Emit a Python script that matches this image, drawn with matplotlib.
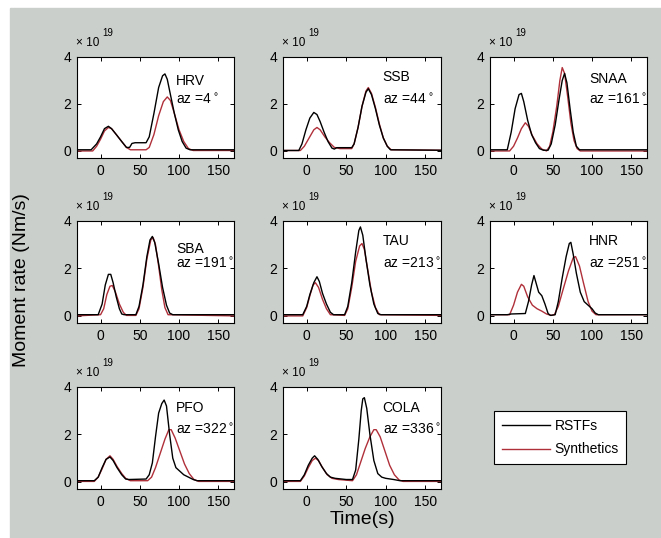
"""
Moment-rate functions (RSTFs) vs synthetics for 8 stations, 3x3 grid.
Output: out.png
"""

import matplotlib
matplotlib.use("Agg")
import matplotlib.pyplot as plt
from matplotlib.lines import Line2D
from matplotlib.patches import Rectangle
from matplotlib.transforms import offset_copy

plt.rcParams["font.family"] = ["Liberation Sans", "DejaVu Sans"]

W, H = 661, 538
GRI = "#cbcfcb"
KIRMIZI = "#b0303a"

# --- veri: (zaman s, moment rate x1e19 Nm/s) ---
STATIONS = ["HRV", "SSB", "SNAA", "SBA", "TAU", "HNR", "PFO", "COLA"]
AZIMUTHS = [4, 44, 161, 191, 213, 251, 322, 336]

HRV_RSTF = [(-30, 0.05), (-12, 0.05), (-5, 0.3), (0, 0.6), (5, 0.95), (10, 1.05), (14, 0.95),
            (20, 0.7), (27, 0.4), (33, 0.15), (37, 0.15), (40, 0.32), (44, 0.35), (58, 0.35),
            (62, 0.6), (68, 1.6), (74, 2.7), (79, 3.2), (82, 3.28), (85, 3.05), (89, 2.4),
            (94, 1.6), (99, 0.9), (104, 0.4), (109, 0.12), (114, 0.05), (170, 0.05)]
HRV_SYN = [(-30, 0.0), (-10, 0.0), (-5, 0.2), (0, 0.5), (5, 0.85), (10, 1.0), (14, 0.95),
           (20, 0.7), (27, 0.4), (33, 0.15), (38, 0.05), (58, 0.05), (62, 0.15), (68, 0.7),
           (74, 1.5), (80, 2.1), (85, 2.3), (89, 2.15), (94, 1.6), (100, 0.9), (106, 0.4),
           (112, 0.1), (118, 0.02), (170, 0.02)]

SSB_RSTF = [(-30, 0.02), (-10, 0.02), (-6, 0.3), (-1, 0.9), (4, 1.4), (9, 1.64), (13, 1.55),
            (17, 1.25), (22, 0.8), (27, 0.4), (32, 0.12), (35, 0.08), (38, 0.14), (57, 0.14),
            (60, 0.3), (65, 1.0), (70, 1.9), (75, 2.5), (78, 2.65), (82, 2.4), (87, 1.8),
            (92, 1.1), (97, 0.55), (102, 0.2), (106, 0.05), (170, 0.03)]
SSB_SYN = [(-30, 0.02), (-8, 0.02), (-3, 0.2), (3, 0.55), (9, 0.9), (13, 1.0), (17, 0.9),
           (23, 0.6), (29, 0.35), (35, 0.15), (42, 0.1), (57, 0.1), (60, 0.3), (65, 1.0),
           (70, 1.9), (75, 2.55), (78, 2.7), (82, 2.45), (87, 1.85), (92, 1.15), (97, 0.55),
           (102, 0.2), (107, 0.05), (170, 0.03)]

SNAA_RSTF = [(-30, 0.05), (-8, 0.05), (-3, 0.8), (2, 1.8), (7, 2.4), (10, 2.45), (13, 2.1),
             (18, 1.3), (23, 0.7), (28, 0.35), (33, 0.1), (38, 0.03), (44, 0.03), (48, 0.3),
             (53, 1.1), (58, 2.2), (62, 3.0), (65, 3.3), (68, 2.9), (72, 1.8), (76, 0.8),
             (80, 0.2), (84, 0.05), (170, 0.05)]
SNAA_SYN = [(-30, 0.0), (-5, 0.0), (0, 0.2), (5, 0.55), (10, 0.95), (15, 1.2), (19, 1.05),
            (24, 0.65), (30, 0.3), (36, 0.08), (42, 0.0), (46, 0.2), (50, 0.8), (55, 1.9),
            (59, 3.0), (62, 3.55), (65, 3.3), (69, 2.3), (73, 1.2), (77, 0.45), (81, 0.1),
            (85, 0.0), (170, 0.0)]

SBA_RSTF = [(-30, 0.05), (-3, 0.05), (2, 0.5), (6, 1.3), (10, 1.75), (13, 1.75), (16, 1.4),
            (20, 0.8), (24, 0.3), (27, 0.08), (30, 0.05), (45, 0.05), (49, 0.4), (54, 1.3),
            (59, 2.5), (63, 3.2), (66, 3.35), (69, 3.1), (74, 2.2), (79, 1.2), (84, 0.45),
            (88, 0.12), (92, 0.05), (170, 0.05)]
SBA_SYN = [(-30, 0.0), (0, 0.05), (4, 0.3), (8, 0.9), (12, 1.25), (15, 1.28), (19, 1.0),
           (24, 0.5), (29, 0.15), (33, 0.02), (45, 0.02), (49, 0.3), (54, 1.2), (59, 2.4),
           (64, 3.2), (67, 3.3), (70, 3.0), (74, 2.1), (78, 1.1), (82, 0.35), (86, 0.05),
           (170, 0.0)]

TAU_RSTF = [(-30, 0.05), (-5, 0.05), (0, 0.4), (4, 0.9), (9, 1.4), (13, 1.65), (16, 1.45),
            (20, 0.95), (25, 0.5), (30, 0.15), (34, 0.05), (48, 0.05), (52, 0.4), (57, 1.4),
            (62, 2.7), (66, 3.6), (68, 3.75), (71, 3.4), (75, 2.4), (80, 1.3), (85, 0.5),
            (90, 0.1), (94, 0.05), (170, 0.05)]
TAU_SYN = [(-30, 0.0), (-5, 0.0), (0, 0.35), (4, 0.85), (8, 1.3), (11, 1.4), (15, 1.2),
           (20, 0.7), (25, 0.3), (30, 0.05), (48, 0.02), (52, 0.3), (57, 1.2), (62, 2.3),
           (67, 2.95), (70, 3.05), (73, 2.8), (77, 2.0), (82, 1.0), (87, 0.35), (92, 0.05),
           (170, 0.02)]

HNR_RSTF = [(-30, 0.05), (-8, 0.05), (-3, 0.08), (15, 0.1), (19, 0.6), (23, 1.3), (26, 1.7),
            (29, 1.35), (32, 1.0), (36, 0.85), (40, 0.5), (44, 0.1), (47, 0.02), (53, 0.05),
            (57, 0.6), (62, 1.6), (67, 2.5), (71, 3.05), (73, 3.1), (76, 2.6), (80, 1.8),
            (85, 1.0), (90, 0.6), (95, 0.45), (100, 0.3), (104, 0.12), (108, 0.05), (170, 0.05)]
HNR_SYN = [(-30, 0.05), (-5, 0.05), (0, 0.45), (5, 1.0), (10, 1.33), (13, 1.25), (18, 0.8),
           (24, 0.45), (30, 0.3), (36, 0.2), (42, 0.08), (48, 0.02), (52, 0.05), (57, 0.4),
           (63, 1.1), (70, 1.9), (76, 2.45), (79, 2.5), (84, 2.1), (89, 1.4), (95, 0.6),
           (100, 0.2), (105, 0.05), (170, 0.05)]

PFO_RSTF = [(-30, 0.05), (-8, 0.05), (-3, 0.2), (2, 0.6), (7, 0.95), (12, 1.05), (16, 0.9),
            (21, 0.6), (27, 0.3), (32, 0.12), (36, 0.1), (58, 0.12), (62, 0.3), (66, 0.8),
            (70, 1.9), (74, 2.9), (78, 3.3), (81, 3.45), (84, 3.2), (88, 2.0), (92, 1.0),
            (96, 0.6), (101, 0.45), (106, 0.3), (112, 0.2), (118, 0.1), (123, 0.05), (170, 0.05)]
PFO_SYN = [(-30, 0.02), (-8, 0.02), (-3, 0.2), (2, 0.55), (7, 0.95), (12, 1.1), (16, 0.95),
           (21, 0.65), (27, 0.35), (32, 0.15), (38, 0.05), (60, 0.05), (65, 0.2), (70, 0.6),
           (76, 1.2), (82, 1.8), (87, 2.2), (90, 2.2), (95, 1.85), (101, 1.3), (107, 0.75),
           (113, 0.35), (119, 0.1), (125, 0.02), (170, 0.02)]

COLA_RSTF = [(-30, 0.05), (-8, 0.05), (-3, 0.3), (2, 0.7), (7, 1.0), (10, 1.1), (14, 0.95),
             (19, 0.65), (25, 0.35), (30, 0.2), (36, 0.15), (50, 0.1), (58, 0.1), (62, 0.5),
             (66, 1.8), (69, 3.0), (71, 3.5), (73, 3.55), (76, 3.1), (80, 2.0), (85, 0.9),
             (90, 0.35), (95, 0.2), (100, 0.15), (110, 0.1), (118, 0.05), (170, 0.05)]
COLA_SYN = [(-30, 0.02), (-8, 0.02), (-3, 0.25), (2, 0.6), (7, 0.9), (11, 1.0), (15, 0.9),
            (20, 0.6), (26, 0.3), (32, 0.15), (40, 0.1), (58, 0.05), (63, 0.3), (68, 0.8),
            (74, 1.4), (80, 1.9), (85, 2.2), (88, 2.2), (93, 1.9), (99, 1.3), (105, 0.7),
            (111, 0.3), (117, 0.08), (122, 0.02), (170, 0.02)]

RSTFS = [HRV_RSTF, SSB_RSTF, SNAA_RSTF, SBA_RSTF, TAU_RSTF, HNR_RSTF, PFO_RSTF, COLA_RSTF]
SYNS = [HRV_SYN, SSB_SYN, SNAA_SYN, SBA_SYN, TAU_SYN, HNR_SYN, PFO_SYN, COLA_SYN]

XTICKS = [0, 50, 100, 150]
YTICKS = [0, 2, 4]

# panel kutulari piksel olarak (sol, ust, sag, alt)
KOLON = [(77, 234), (283, 441), (490, 647)]
SATIR = [(57, 158), (221, 323), (387, 489)]
# istasyon adi icin y (axes kesri)
ISIM_Y = [0.76, 0.80, 0.78, 0.73, 0.80, 0.80, 0.79, 0.79]


def eksen(fig, sol, ust, sag, alt):
    return fig.add_axes([sol / W, 1 - alt / H, (sag - sol) / W, (alt - ust) / H])


def ciz(ax, fig, i):
    t, v = zip(*RSTFS[i])
    ax.plot(t, v, color="black", lw=1.0, zorder=3)
    t, v = zip(*SYNS[i])
    ax.plot(t, v, color=KIRMIZI, lw=1.0, zorder=2)
    ax.set_xlim(-30, 170)
    ax.set_ylim(-0.3, 4)
    ax.set_xticks(XTICKS)
    ax.set_yticks(YTICKS)
    ax.tick_params(direction="in", top=True, right=True, length=3, width=0.7,
                   labelsize=10, pad=4)
    for s in ax.spines.values():
        s.set_linewidth(0.8)
    ax.text(0.63, ISIM_Y[i], STATIONS[i], transform=ax.transAxes, fontsize=10,
            va="center", ha="left")
    ax.text(0.63, 0.58, f"az ={AZIMUTHS[i]}$^\\circ$", transform=ax.transAxes,
            fontsize=10, va="center", ha="left")
    # MATLAB tarzi carpan: "x 10^19"
    ax.text(0, 1, "\u00d7 10", fontsize=8.5, va="center", ha="left",
            transform=offset_copy(ax.transAxes, fig, x=-1, y=14, units="dots"))
    ax.text(0, 1, "19", fontsize=7, va="center", ha="left",
            transform=offset_copy(ax.transAxes, fig, x=25, y=24, units="dots"))


def main():
    fig = plt.figure(figsize=(W / 100, H / 100), dpi=100, facecolor="white")
    # gri zemin (MATLAB figure rengi), solda ve ustte ince beyaz serit
    fig.patches.append(Rectangle((10 / W, 0), 1 - 10 / W, 1 - 8 / H,
                                 transform=fig.transFigure, color=GRI, zorder=-10))

    for i in range(len(STATIONS)):
        r, c = divmod(i, 3)
        ax = eksen(fig, KOLON[c][0], SATIR[r][0], KOLON[c][1], SATIR[r][1])
        ciz(ax, fig, i)

    fig.text(22 / W, 1 - 280 / H, "Moment rate (Nm/s)", rotation=90, fontsize=14,
             va="center", ha="center")
    fig.text(362 / W, 1 - 520 / H, "Time(s)", fontsize=14, va="center", ha="center")

    eller = [Line2D([], [], color="black", lw=1.0), Line2D([], [], color=KIRMIZI, lw=1.0)]
    lg = fig.legend(eller, ["RSTFs", "Synthetics"], loc="upper left",
                    bbox_to_anchor=(494 / W, 1 - 411 / H), fontsize=10, fancybox=False,
                    edgecolor="black", framealpha=1, borderaxespad=0, borderpad=0.55,
                    handlelength=3.5, handletextpad=0.3, labelspacing=0.7)
    lg.get_frame().set_linewidth(0.8)

    fig.savefig("out.png", dpi=100, facecolor=fig.get_facecolor())


if __name__ == "__main__":
    main()
